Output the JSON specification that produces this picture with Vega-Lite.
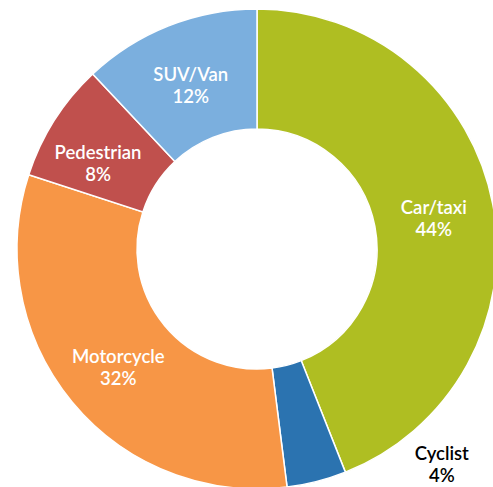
{
  "$schema": "https://vega.github.io/schema/vega-lite/v6.json",
  "width": 514,
  "height": 498,
  "autosize": {"type": "none"},
  "padding": 0,
  "background": "white",
  "view": {"stroke": null},
  "data": {
    "values": [
      {"category": "Car/taxi", "value": 44, "idx": 1},
      {"category": "Cyclist", "value": 4, "idx": 2},
      {"category": "Motorcycle", "value": 32, "idx": 3},
      {"category": "Pedestrian", "value": 8, "idx": 4},
      {"category": "SUV/Van", "value": 12, "idx": 5}
    ]
  },
  "transform": [
    {"calculate": "datum.category + '\\n' + datum.value + '%'", "as": "label"}
  ],
  "encoding": {
    "theta": {"field": "value", "type": "quantitative", "stack": true},
    "order": {"field": "idx", "type": "quantitative"}
  },
  "layer": [
    {
      "mark": {"type": "arc", "radius": 240, "radius2": 120, "stroke": "white", "strokeWidth": 1.5},
      "encoding": {
        "color": {
          "field": "category",
          "type": "nominal",
          "legend": null,
          "scale": {
            "domain": ["Car/taxi", "Cyclist", "Motorcycle", "Pedestrian", "SUV/Van"],
            "range": ["#AFBE22", "#2B73B0", "#F79646", "#C0504D", "#7BAFDE"]
          }
        }
      }
    },
    {
      "mark": {"type": "text", "radius": 180, "dy": -7, "font": "Lato", "fontSize": 18.5, "fontWeight": 600, "fill": "white", "align": "center", "baseline": "middle", "lineBreak": "\n", "lineHeight": 22},
      "encoding": {
        "text": {"condition": {"test": "datum.category === 'Cyclist' || datum.category === 'Pedestrian'", "value": ""}, "field": "label"}
      }
    },
    {
      "mark": {"type": "text", "radius": 180, "dx": -7, "dy": 0, "font": "Lato", "fontSize": 18.5, "fontWeight": 600, "fill": "white", "align": "center", "baseline": "middle", "lineBreak": "\n", "lineHeight": 22},
      "encoding": {
        "text": {"condition": {"test": "datum.category !== 'Pedestrian'", "value": ""}, "field": "label"}
      }
    },
    {
      "mark": {"type": "text", "radius": 180, "dx": 140, "dy": 31, "font": "Lato", "fontSize": 18.5, "fontWeight": 600, "fill": "black", "align": "center", "baseline": "middle", "lineBreak": "\n", "lineHeight": 22},
      "encoding": {
        "text": {"condition": {"test": "datum.category !== 'Cyclist'", "value": ""}, "field": "label"}
      }
    }
  ]
}
